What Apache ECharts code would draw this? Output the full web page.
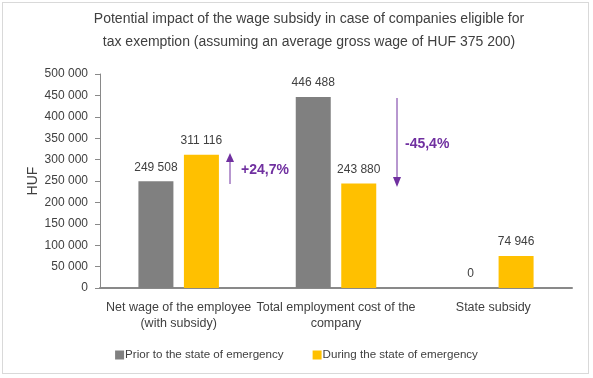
<!DOCTYPE html>
<html><head><meta charset="utf-8">
<script src="https://cdn.jsdelivr.net/npm/echarts@6/dist/echarts.min.js"></script>
<style>html,body{margin:0;padding:0;background:#fff}#frame{position:absolute;left:2px;top:2px;width:587px;height:372px;border:1px solid #d9d9d9;box-sizing:border-box;pointer-events:none}#c{width:593px;height:378px}</style>
</head><body>
<div id="c"></div>
<div id="frame"></div>
<script>
const categories = ['Net wage of the employee\n(with subsidy)', 'Total employment cost of the\ncompany', 'State subsidy'];
const priorValues = [249508, 446488, 0];
const duringValues = [311116, 243880, 74946];
const seriesNames = ['Prior to the state of emergency', 'During the state of emergency'];
const changeLabels = ['+24,7%', '-45,4%'];
const yTicks = {min: 0, max: 500000, interval: 50000};

const FONT = '"Liberation Sans", Arial, sans-serif';
const TXT = '#404040';
const fmt = v => String(v).replace(/\B(?=(\d{3})+(?!\d))/g, ' ');

const chart = echarts.init(document.getElementById('c'), null, {renderer: 'canvas'});
const purple = '#7030A0';
chart.setOption({
  animation: false,
  textStyle: {fontFamily: FONT},
  title: {
    text: 'Potential impact of the wage subsidy in case of companies eligible for\ntax exemption (assuming an average gross wage of HUF 375 200)',
    left: 304, textAlign: 'center', top: 3,
    textStyle: {fontFamily: FONT, fontSize: 14, fontWeight: 'normal', color: TXT, lineHeight: 23}
  },
  legend: {
    top: 344, left: 'center',
    itemWidth: 9, itemHeight: 9, itemGap: 29,
    icon: 'rect',
    textStyle: {fontFamily: FONT, fontSize: 11.6, color: TXT, padding: [0,0,0,-4]},
    data: seriesNames
  },
  grid: {left: 100, right: 21, top: 74, bottom: 90, containLabel: false},
  xAxis: {
    type: 'category', data: categories,
    axisLine: {lineStyle: {color: '#898989', width: 2}},
    axisTick: {show: false},
    axisLabel: {fontFamily: FONT, fontSize: 12.5, color: TXT, margin: 12, lineHeight: 16, interval: 0}
  },
  yAxis: {
    type: 'value', min: yTicks.min, max: yTicks.max, interval: yTicks.interval,
    name: 'HUF', nameLocation: 'middle', nameGap: 60, nameRotate: 90, nameMoveOverlap: false,
    nameTextStyle: {fontFamily: FONT, fontSize: 14, color: TXT},
    axisLine: {show: true, lineStyle: {color: '#898989', width: 1}},
    axisTick: {show: true, length: 5, lineStyle: {color: '#898989'}},
    splitLine: {show: false},
    axisLabel: {fontFamily: FONT, fontSize: 12, color: TXT, margin: 12, formatter: fmt}
  },
  series: [
    {name: seriesNames[0], type: 'bar', data: priorValues, barWidth: 35, barGap: '30%',
     itemStyle: {color: '#808080'},
     label: {show: true, position: 'top', distance: 8, fontFamily: FONT, fontSize: 12, color: TXT, formatter: p => fmt(p.value)}},
    {name: seriesNames[1], type: 'bar', data: duringValues, barWidth: 35,
     itemStyle: {color: '#FFC000'},
     label: {show: true, position: 'top', distance: 8, fontFamily: FONT, fontSize: 12, color: TXT, formatter: p => fmt(p.value)}}
  ],
  graphic: [
    {type: 'line', shape: {x1: 230, y1: 184, x2: 230, y2: 160}, style: {stroke: purple, lineWidth: 1}},
    {type: 'polygon', shape: {points: [[226, 162], [234, 162], [230, 153]]}, style: {fill: purple}},
    {type: 'text', left: 241, top: 163, style: {text: changeLabels[0], font: 'bold 14px ' + FONT, fill: purple}},
    {type: 'line', shape: {x1: 397, y1: 98, x2: 397, y2: 179}, style: {stroke: purple, lineWidth: 1}},
    {type: 'polygon', shape: {points: [[393, 177], [401, 177], [397, 187]]}, style: {fill: purple}},
    {type: 'text', left: 405, top: 137, style: {text: changeLabels[1], font: 'bold 14px ' + FONT, fill: purple}}
  ]
});
</script>
</body></html>
